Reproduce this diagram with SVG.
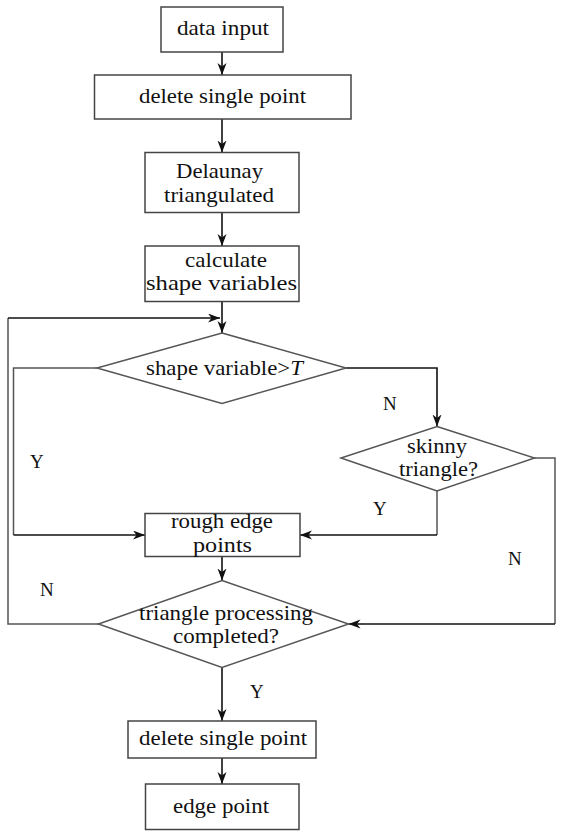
<svg xmlns="http://www.w3.org/2000/svg" width="572" height="831" viewBox="0 0 572 831">
<style>
.box{fill:#fff;stroke:#444;stroke-width:1.5}
.dia{fill:#fff;stroke:#555;stroke-width:1.5}
.t{font-family:"Liberation Serif","Times New Roman",serif;font-size:21px;fill:#111;text-anchor:middle}
.l{font-family:"Liberation Serif","Times New Roman",serif;font-size:19px;fill:#111}
.c{fill:none;stroke:#111;stroke-width:1.6}
.g{fill:none;stroke:#555;stroke-width:1.5}
</style>
<defs>
<marker id="a" markerUnits="userSpaceOnUse" markerWidth="14" markerHeight="10" refX="12" refY="4.5" orient="auto">
<path d="M0,0 L12,4.5 L0,9 L3.5,4.5 z" fill="#111"/>
</marker>
</defs>
<rect width="572" height="831" fill="#fff"/>
<g id="connectors">
<line class="c" x1="222" y1="52" x2="222" y2="75" marker-end="url(#a)"/>
<line class="c" x1="222" y1="119" x2="222" y2="152.5" marker-end="url(#a)"/>
<line class="c" x1="222" y1="212.5" x2="222" y2="246" marker-end="url(#a)"/>
<line class="c" x1="222" y1="301.5" x2="222" y2="333" marker-end="url(#a)"/>
<polyline class="g" points="115,624 8,624 8,318"/>
<polyline class="c" points="8,318 220,318" marker-end="url(#a)"/>
<polyline class="g" points="97,368 13.5,368 13.5,535"/>
<polyline class="c" points="13.5,535 145,535" marker-end="url(#a)"/>
<polyline class="c" points="346,368 437,368 437,426.5" marker-end="url(#a)"/>
<polyline class="g" points="437,491 437,535"/>
<polyline class="c" points="437,535 300,535" marker-end="url(#a)"/>
<polyline class="g" points="534.5,458 555,458 555,624"/>
<polyline class="c" points="555,624 348.5,624" marker-end="url(#a)"/>
<line class="c" x1="222" y1="556.5" x2="222" y2="580.5" marker-end="url(#a)"/>
<line class="c" x1="222" y1="667.5" x2="222" y2="721" marker-end="url(#a)"/>
<line class="c" x1="222" y1="758" x2="222" y2="784" marker-end="url(#a)"/>
</g>
<g id="n1"><rect class="box" x="161" y="7" width="122" height="45"/><text class="t" x="223" y="35" textLength="92" lengthAdjust="spacingAndGlyphs">data input</text></g>
<g id="n2"><rect class="box" x="94.5" y="75" width="256.5" height="44"/><text class="t" x="222.5" y="103" textLength="167" lengthAdjust="spacingAndGlyphs">delete single point</text></g>
<g id="n3"><rect class="box" x="145" y="152.5" width="154" height="60"/><text class="t" x="219.5" y="178" textLength="87" lengthAdjust="spacingAndGlyphs">Delaunay</text><text class="t" x="219" y="202" textLength="110" lengthAdjust="spacingAndGlyphs">triangulated</text></g>
<g id="n4"><rect class="box" x="145" y="246" width="154" height="55.5"/><text class="t" x="226" y="267" textLength="82" lengthAdjust="spacingAndGlyphs">calculate</text><text class="t" x="221.5" y="290" textLength="151" lengthAdjust="spacingAndGlyphs">shape variables</text></g>
<g id="d1"><polygon class="dia" points="222,333 346,368 222,403.5 97,368"/><text class="t" x="224.5" y="375" textLength="157" lengthAdjust="spacingAndGlyphs">shape variable&gt;<tspan font-style="italic">T</tspan></text></g>
<g id="d2"><polygon class="dia" points="437,426.5 534.5,458 437,491 341,458"/><text class="t" x="437" y="453" textLength="60" lengthAdjust="spacingAndGlyphs">skinny</text><text class="t" x="438.5" y="476" textLength="79" lengthAdjust="spacingAndGlyphs">triangle?</text></g>
<g id="n5"><rect class="box" x="145" y="513.5" width="155" height="43"/><text class="t" x="222" y="528" textLength="102" lengthAdjust="spacingAndGlyphs">rough edge</text><text class="t" x="222.5" y="552" textLength="59" lengthAdjust="spacingAndGlyphs">points</text></g>
<g id="d3"><polygon class="dia" points="222,580.5 348.5,624 222,667.5 98.5,624"/><text class="t" x="226" y="620" textLength="174" lengthAdjust="spacingAndGlyphs">triangle processing</text><text class="t" x="226" y="643" textLength="106" lengthAdjust="spacingAndGlyphs">completed?</text></g>
<g id="n6"><rect class="box" x="128" y="721" width="188" height="37"/><text class="t" x="223" y="745" textLength="168" lengthAdjust="spacingAndGlyphs">delete single point</text></g>
<g id="n7"><rect class="box" x="145.5" y="784" width="153.5" height="45.5"/><text class="t" x="221" y="813" textLength="96" lengthAdjust="spacingAndGlyphs">edge point</text></g>
<g id="labels">
<text class="l" x="383" y="410">N</text>
<text class="l" x="30" y="468">Y</text>
<text class="l" x="373" y="515">Y</text>
<text class="l" x="508" y="565">N</text>
<text class="l" x="40" y="596">N</text>
<text class="l" x="250" y="698">Y</text>
</g>
</svg>
